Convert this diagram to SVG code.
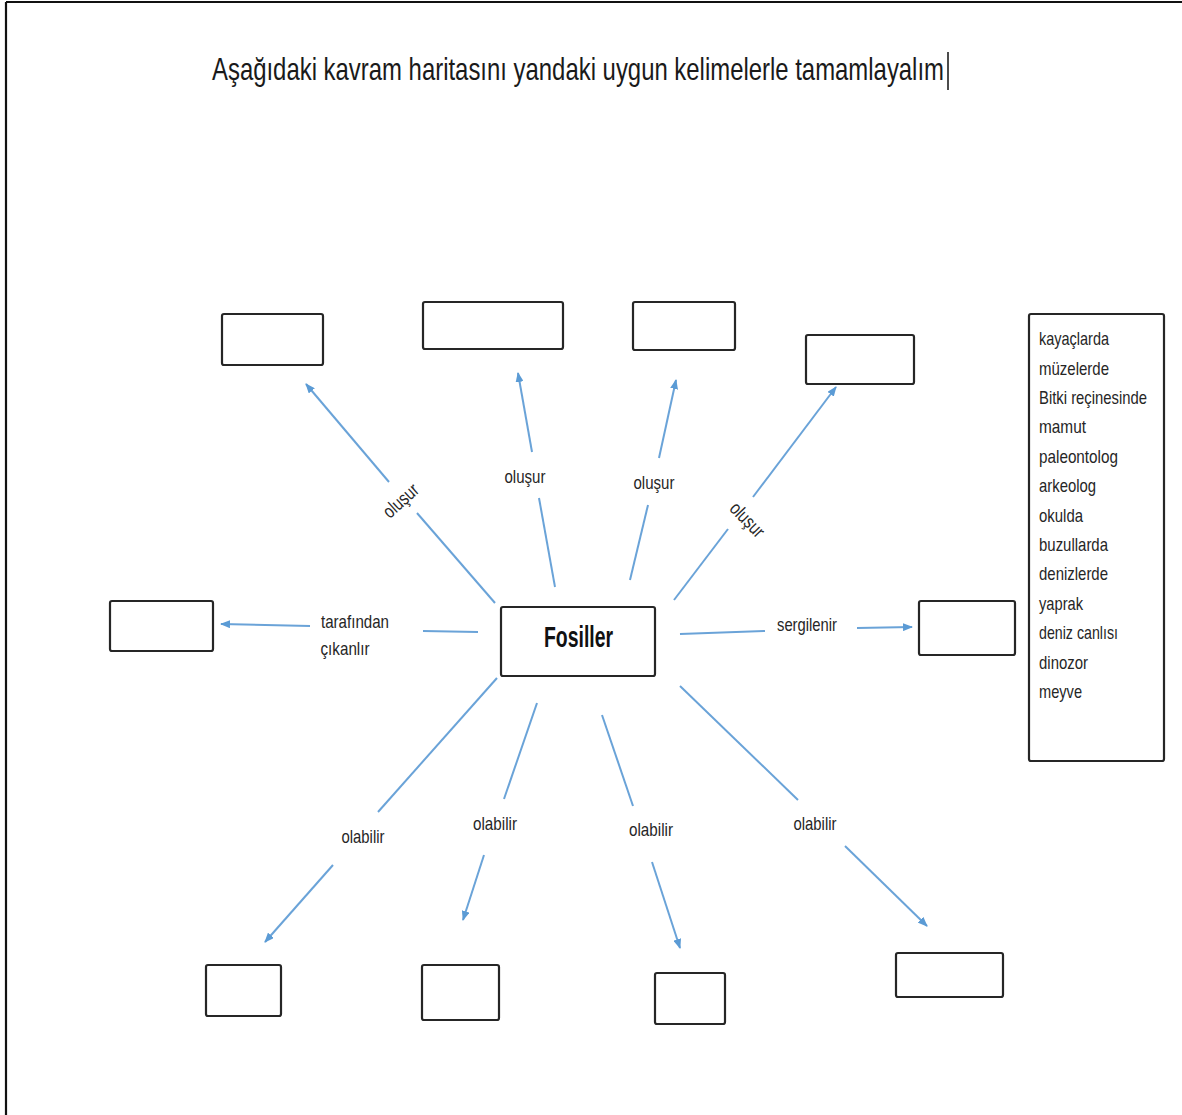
<svg xmlns="http://www.w3.org/2000/svg" width="1182" height="1115" viewBox="0 0 1182 1115">
<defs>
<marker id="ah" viewBox="0 0 10 8" refX="9" refY="4" markerWidth="5" markerHeight="4" orient="auto" markerUnits="strokeWidth">
<path d="M0,0 L10,4 L0,8 z" fill="#5b9bd5"/>
</marker>
<style>
.box{fill:#fff;stroke:#262626;stroke-width:2.2}
.c{stroke:#6aa3d8;stroke-width:2;fill:none}
.a{marker-end:url(#ah)}
.lbl{font-family:"Liberation Sans",Arial,sans-serif;font-size:19px;fill:#262626;text-anchor:middle}
.lst{font-family:"Liberation Sans",Arial,sans-serif;font-size:19px;fill:#262626}
.ttl{font-family:"Liberation Sans",Arial,sans-serif;font-size:32px;fill:#1a1a1a}
.main{font-family:"Liberation Sans",Arial,sans-serif;font-size:30px;font-weight:bold;fill:#111;text-anchor:middle}
</style>
</defs>
<rect x="0" y="0" width="1182" height="1115" fill="#fff"/>
<g id="frame" stroke="#111" stroke-width="2.2">
<line x1="6" y1="2" x2="1182" y2="2"/>
<line x1="6" y1="2" x2="6" y2="1115"/>
</g>
<g id="title">
<text class="ttl" x="0" y="0" transform="translate(212 80) scale(0.7 1)" textLength="1045.7" lengthAdjust="spacingAndGlyphs">Aşağıdaki kavram haritasını yandaki uygun kelimelerle tamamlayalım</text>
<line x1="948" y1="52" x2="948" y2="90" stroke="#111" stroke-width="1.5"/>
</g>
<g id="connectors">
<line class="c" x1="495" y1="603" x2="417" y2="513"/>
<line class="c a" x1="389" y1="482" x2="306" y2="384"/>
<line class="c" x1="555" y1="587" x2="539" y2="498"/>
<line class="c a" x1="532" y1="452" x2="518" y2="373"/>
<line class="c" x1="630" y1="580" x2="648" y2="505"/>
<line class="c a" x1="659" y1="458" x2="676" y2="380"/>
<line class="c" x1="674" y1="600" x2="728" y2="529"/>
<line class="c a" x1="753" y1="497" x2="836" y2="387"/>
<line class="c" x1="478" y1="632" x2="423" y2="631"/>
<line class="c a" x1="310" y1="626" x2="221" y2="624"/>
<line class="c" x1="680" y1="634" x2="765" y2="631"/>
<line class="c a" x1="857" y1="628" x2="912" y2="627"/>
<line class="c" x1="497" y1="678" x2="378" y2="812"/>
<line class="c a" x1="333" y1="865" x2="265" y2="942"/>
<line class="c" x1="537" y1="703" x2="504" y2="799"/>
<line class="c a" x1="484" y1="855" x2="463" y2="920"/>
<line class="c" x1="602" y1="715" x2="633" y2="806"/>
<line class="c a" x1="652" y1="862" x2="680" y2="948"/>
<line class="c" x1="680" y1="686" x2="798" y2="800"/>
<line class="c a" x1="845" y1="846" x2="927" y2="926"/>
<text class="lbl" x="401" y="507" textLength="41" lengthAdjust="spacingAndGlyphs" transform="rotate(-42 401 501)">oluşur</text>
<text class="lbl" x="525" y="483" textLength="41" lengthAdjust="spacingAndGlyphs">oluşur</text>
<text class="lbl" x="654" y="489" textLength="41" lengthAdjust="spacingAndGlyphs">oluşur</text>
<text class="lbl" x="747" y="526" textLength="41" lengthAdjust="spacingAndGlyphs" transform="rotate(46 747 520)">oluşur</text>
<text class="lbl" x="355" y="628" textLength="68" lengthAdjust="spacingAndGlyphs">tarafından</text>
<text class="lbl" x="345" y="655" textLength="49" lengthAdjust="spacingAndGlyphs">çıkanlır</text>
<text class="lbl" x="807" y="631" textLength="60" lengthAdjust="spacingAndGlyphs">sergilenir</text>
<text class="lbl" x="363" y="843" textLength="43" lengthAdjust="spacingAndGlyphs">olabilir</text>
<text class="lbl" x="495" y="830" textLength="44" lengthAdjust="spacingAndGlyphs">olabilir</text>
<text class="lbl" x="651" y="836" textLength="44" lengthAdjust="spacingAndGlyphs">olabilir</text>
<text class="lbl" x="815" y="830" textLength="43" lengthAdjust="spacingAndGlyphs">olabilir</text>
</g>
<g id="fosiller">
<rect class="box" x="501" y="607" width="154" height="69" rx="2"/>
<text class="main" x="578.5" y="647" textLength="69" lengthAdjust="spacingAndGlyphs">Fosiller</text>
</g>
<g id="top1"><rect class="box" x="222" y="314" width="101" height="51" rx="2"/></g>
<g id="top2"><rect class="box" x="423" y="302" width="140" height="47" rx="2"/></g>
<g id="top3"><rect class="box" x="633" y="302" width="102" height="48" rx="2"/></g>
<g id="top4"><rect class="box" x="806" y="335" width="108" height="49" rx="2"/></g>
<g id="left"><rect class="box" x="110" y="601" width="103" height="50" rx="2"/></g>
<g id="right"><rect class="box" x="919" y="601" width="96" height="54" rx="2"/></g>
<g id="bottom1"><rect class="box" x="206" y="965" width="75" height="51" rx="2"/></g>
<g id="bottom2"><rect class="box" x="422" y="965" width="77" height="55" rx="2"/></g>
<g id="bottom3"><rect class="box" x="655" y="973" width="70" height="51" rx="2"/></g>
<g id="bottom4"><rect class="box" x="896" y="953" width="107" height="44" rx="2"/></g>
<g id="wordlist">
<rect class="box" x="1029" y="314" width="135" height="447" rx="2"/>
<text class="lst" x="1039" y="345" textLength="70" lengthAdjust="spacingAndGlyphs">kayaçlarda</text>
<text class="lst" x="1039" y="374.5" textLength="70" lengthAdjust="spacingAndGlyphs">müzelerde</text>
<text class="lst" x="1039" y="404" textLength="108" lengthAdjust="spacingAndGlyphs">Bitki reçinesinde</text>
<text class="lst" x="1039" y="433" textLength="47" lengthAdjust="spacingAndGlyphs">mamut</text>
<text class="lst" x="1039" y="463" textLength="79" lengthAdjust="spacingAndGlyphs">paleontolog</text>
<text class="lst" x="1039" y="492" textLength="57" lengthAdjust="spacingAndGlyphs">arkeolog</text>
<text class="lst" x="1039" y="521.5" textLength="44" lengthAdjust="spacingAndGlyphs">okulda</text>
<text class="lst" x="1039" y="551" textLength="69" lengthAdjust="spacingAndGlyphs">buzullarda</text>
<text class="lst" x="1039" y="580" textLength="69" lengthAdjust="spacingAndGlyphs">denizlerde</text>
<text class="lst" x="1039" y="610" textLength="44" lengthAdjust="spacingAndGlyphs">yaprak</text>
<text class="lst" x="1039" y="639" textLength="79" lengthAdjust="spacingAndGlyphs">deniz canlısı</text>
<text class="lst" x="1039" y="668.5" textLength="49" lengthAdjust="spacingAndGlyphs">dinozor</text>
<text class="lst" x="1039" y="698" textLength="43" lengthAdjust="spacingAndGlyphs">meyve</text>
</g>
</svg>
